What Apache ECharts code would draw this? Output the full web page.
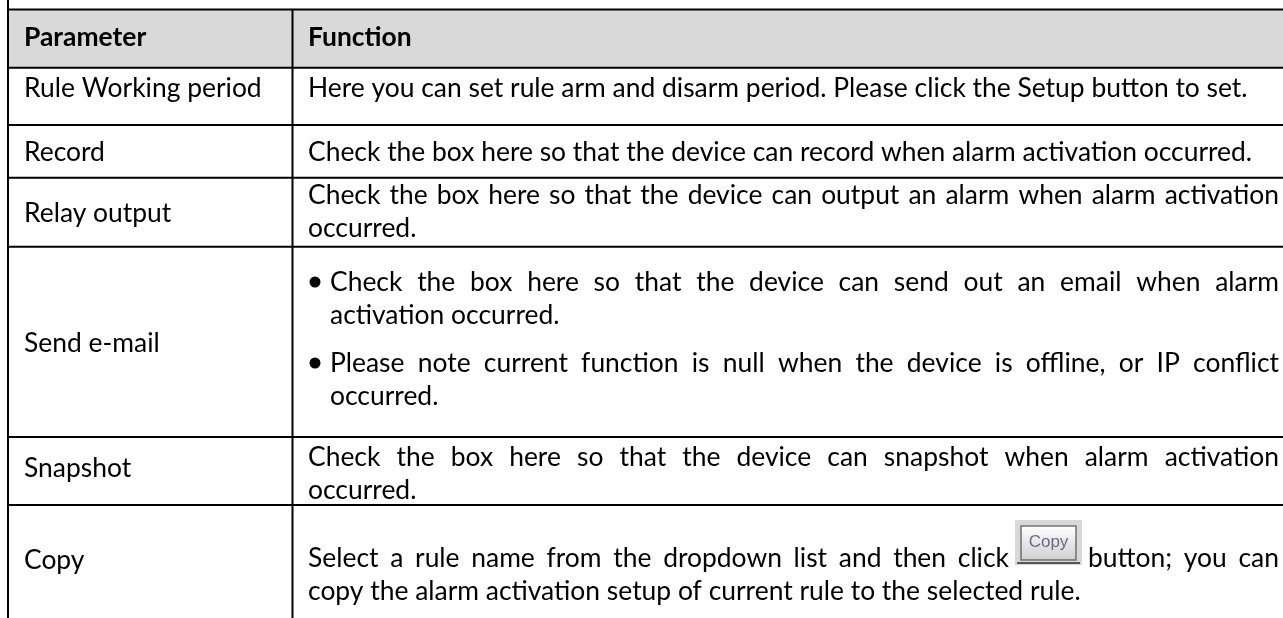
<!DOCTYPE html>
<html><head><meta charset="utf-8">
<script src="https://cdn.jsdelivr.net/npm/echarts@6/dist/echarts.min.js"></script>
<style>html,body{margin:0;padding:0;background:#fff;overflow:hidden}#c{width:1283px;height:618px}</style>
</head><body><div id="c"></div>
<script>
// ---------- DATA ----------
const headers = ['Parameter', 'Function'];
const parameters = ['Rule Working period', 'Record', 'Relay output', 'Send e-mail', 'Snapshot', 'Copy'];
const functionParagraphs = [
  [{ bullet: false, lines: ['Here you can set rule arm and disarm period. Please click the Setup button to set.'] }],
  [{ bullet: false, lines: ['Check the box here so that the device can record when alarm activation occurred.'] }],
  [{ bullet: false, lines: ['Check the box here so that the device can output an alarm when alarm activation', 'occurred.'] }],
  [{ bullet: true, lines: ['Check the box here so that the device can send out an email when alarm', 'activation occurred.'] },
   { bullet: true, lines: ['Please note current function is null when the device is offline, or IP conflict', 'occurred.'] }],
  [{ bullet: false, lines: ['Check the box here so that the device can snapshot when alarm activation', 'occurred.'] }],
  [{ bullet: false, lines: ['Select a rule name from the dropdown list and then click {btn} button; you can', 'copy the alarm activation setup of current rule to the selected rule.'] }]
];
const buttonLabel = 'Copy';

// ---------- LAYOUT / STYLE ----------
const L = {
  left: 8, colX: 292.5, right: 1290, textRight: 1279,
  rowLines: [9.5, 67.7, 125, 177.7, 246.7, 437, 505],
  paramX: 24, funcX: 308, bulletX: 315, bulletR: 5.5, bulletTextX: 330,
  headerY: 37,
  paramY: [88, 152, 213, 343, 468, 560],
  lineY: [[88], [152], [195, 228], [282, 315, 363, 396], [457, 490], [558, 591]],
  family: 'Lato', fitText: 'Here you can set rule arm and disarm period. Please click the Setup button to set.', fitWidth: 940,
  btnW: 67, btnGap: 6,
  headerFill: '#d9d9d9', lineColor: '#000', lineWidth: 2
};

const cv = document.createElement('canvas').getContext('2d');
function measure(t, size, weight) { cv.font = (weight || 'normal') + ' ' + size + 'px ' + L.family; return cv.measureText(t).width; }
const fontSize = +(100 * L.fitWidth / measure(L.fitText, 100)).toFixed(2);
function font(weight) { return (weight || 'normal') + ' ' + fontSize + 'px ' + L.family; }

const els = [];
function text(t, x, y, weight) {
  els.push({ type: 'text', x: x, y: y, z: 5, silent: true,
    style: { text: t, font: font(weight), fill: '#000', align: 'left', textAlign: 'left', verticalAlign: 'middle', textVerticalAlign: 'middle' } });
}
function button(x, y) {
  const top = y - 38, h = 45;
  els.push({ type: 'rect', z: 4, silent: true, shape: { x: x, y: top, width: L.btnW, height: h }, style: { fill: '#d8d8d8' } });
  els.push({ type: 'rect', z: 4, silent: true, shape: { x: x + 6, y: top + 6, width: L.btnW - 12, height: h - 11 },
    style: { fill: new echarts.graphic.LinearGradient(0, 0, 0, 1, [{ offset: 0, color: '#ffffff' }, { offset: 1, color: '#cfcfcf' }]), stroke: '#707070', lineWidth: 1.5 } });
  els.push({ type: 'line', z: 4, silent: true, shape: { x1: x + 2, y1: top + h - 2, x2: x + L.btnW - 2, y2: top + h - 2 }, style: { stroke: '#555', lineWidth: 2 } });
  els.push({ type: 'text', z: 5, silent: true, x: x + L.btnW / 2, y: top + 22,
    style: { text: buttonLabel, font: 'normal 17px Arial, "Liberation Sans"', fill: '#6a6a88', align: 'center', textAlign: 'center', verticalAlign: 'middle', textVerticalAlign: 'middle' } });
}
function justified(line, x0, y) {
  const toks = line.split(' ');
  const widths = toks.map(t => t === '{btn}' ? L.btnW : measure(t, fontSize));
  let fixed = 0, flex = 0;
  for (let i = 0; i < toks.length - 1; i++) {
    if (toks[i] === '{btn}' || toks[i + 1] === '{btn}') fixed += L.btnGap; else flex++;
  }
  const sum = widths.reduce((a, b) => a + b, 0);
  const gap = (L.textRight - x0 - sum - fixed) / flex;
  let x = x0;
  toks.forEach((t, i) => {
    if (t === '{btn}') button(x, y); else text(t, x, y);
    x += widths[i];
    if (i < toks.length - 1) x += (t === '{btn}' || toks[i + 1] === '{btn}') ? L.btnGap : gap;
  });
}

// header background
const R = L.rowLines;
els.push({ type: 'rect', z: 0, silent: true, shape: { x: L.left, y: R[0], width: L.right - L.left, height: R[1] - R[0] }, style: { fill: L.headerFill } });
// grid lines
R.forEach(y => els.push({ type: 'line', z: 10, silent: true, shape: { x1: L.left - 1, y1: y, x2: L.right, y2: y }, style: { stroke: L.lineColor, lineWidth: L.lineWidth } }));
els.push({ type: 'line', z: 10, silent: true, shape: { x1: L.left, y1: 0, x2: L.left, y2: 620 }, style: { stroke: L.lineColor, lineWidth: L.lineWidth } });
els.push({ type: 'line', z: 10, silent: true, shape: { x1: L.colX, y1: R[0], x2: L.colX, y2: 620 }, style: { stroke: L.lineColor, lineWidth: L.lineWidth } });

// header text
text(headers[0], L.paramX, L.headerY, 'bold');
text(headers[1], L.funcX, L.headerY, 'bold');

parameters.forEach((p, r) => {
  text(p, L.paramX, L.paramY[r]);
  let li = 0;
  functionParagraphs[r].forEach(par => {
    const x0 = par.bullet ? L.bulletTextX : L.funcX;
    par.lines.forEach((ln, k) => {
      const y = L.lineY[r][li++];
      if (par.bullet && k === 0) {
        els.push({ type: 'circle', z: 5, silent: true, shape: { cx: L.bulletX, cy: y, r: L.bulletR }, style: { fill: '#000' } });
      }
      if (k < par.lines.length - 1) justified(ln, x0, y); else text(ln, x0, y);
    });
  });
});

const chart = echarts.init(document.getElementById('c'), null, { renderer: 'canvas', width: 1283, height: 618 });
chart.setOption({ backgroundColor: '#fff', animation: false, graphic: { elements: els } });
</script></body></html>
